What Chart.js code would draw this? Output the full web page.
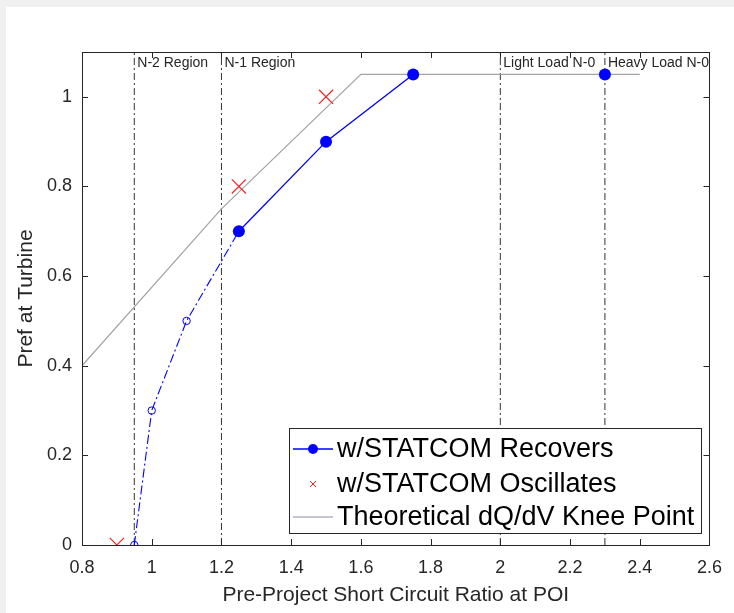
<!DOCTYPE html>
<html>
<head>
<meta charset="utf-8">
<script src="https://cdn.jsdelivr.net/npm/chart.js@4.4.1/dist/chart.umd.min.js"></script>
<style>
  body { margin: 0; background: #f0f0f0; }
  #caja { position: absolute; left: 6px; top: 7px; width: 728px; height: 606px; background: #fff; }
</style>
</head>
<body>
<div id="caja"><canvas id="graficoScr" width="728" height="606"></canvas></div>
<script>
// datos
const recuperaX = [1.25, 1.5, 1.75, 2.0, 2.3];
const recuperaY = [0.7, 0.9, 1.05, null, 1.05];
const bajoX = [0.95, 1.0, 1.1, 1.25];
const bajoY = [0, 0.3, 0.5, 0.7];
const oscilaX = [0.9, 1.25, 1.5];
const oscilaY = [0, 0.8, 1.0];
const rodillaX = [0.8, 1.2, 1.6, 2.4];
const rodillaY = [0.4, 0.75, 1.05, 1.05];
const regionX = [0.95, 1.2, 2.0, 2.3];
const regionTxt = ["N-2 Region", "N-1 Region", "Light Load N-0", "Heavy Load N-0"];
const xTicks = [0.8, 1.0, 1.2, 1.4, 1.6, 1.8, 2.0, 2.2, 2.4, 2.6];
const yTicks = [0, 0.2, 0.4, 0.6, 0.8, 1.0];

const AZUL = "#0000ff";
const ROJO = "#ff2020";
const GRIS = "#a3a3a3";
const EJE = "#262626";
const FUENTE = "'Liberation Sans', Arial, sans-serif";

function puntos(xs, ys) {
  return xs.map((x, i) => ({ x: x, y: ys[i] }));
}

var datasets = [
  {
    label: "w/STATCOM Oscillates",
    data: puntos(oscilaX, oscilaY),
    showLine: false,
    pointStyle: "crossRot",
    pointRadius: 10,
    borderColor: ROJO,
    borderWidth: 1.2
  },
  {
    label: "w/STATCOM Recovers",
    data: puntos(recuperaX, recuperaY),
    borderColor: AZUL,
    backgroundColor: AZUL,
    borderWidth: 1.3,
    pointRadius: 6,
    pointBorderWidth: 0,
    spanGaps: false
  },
  {
    label: "bajo",
    data: puntos(bajoX, bajoY),
    borderColor: AZUL,
    borderWidth: 1.1,
    borderDash: [9, 3, 2, 3],
    pointRadius: [3.7, 3.7, 3.7, 0],
    pointBorderWidth: 1,
    pointBackgroundColor: "rgba(0,0,0,0)",
    pointBorderColor: AZUL
  },
  {
    label: "Theoretical dQ/dV Knee Point",
    data: puntos(rodillaX, rodillaY),
    borderColor: GRIS,
    borderWidth: 1.2,
    pointRadius: 0
  }
];

regionX.forEach(function (x) {
  datasets.push({
    label: "region",
    data: [{ x: x, y: 0 }, { x: x, y: 1.1 }],
    borderColor: "#333333",
    borderWidth: 1,
    borderDash: [7, 3, 2, 3],
    pointRadius: 0
  });
});

// marco, ticks hacia adentro, textos de region y leyenda
const pluginMarco = {
  id: "marco",
  afterDraw: function (chart) {
    const ctx = chart.ctx;
    const a = chart.chartArea;
    const sx = chart.scales.x;
    const sy = chart.scales.y;
    ctx.save();
    ctx.strokeStyle = EJE;
    ctx.lineWidth = 1;
    ctx.beginPath();
    xTicks.forEach(function (v) {
      const px = Math.round(sx.getPixelForValue(v)) + 0.5;
      ctx.moveTo(px, a.bottom); ctx.lineTo(px, a.bottom - 6);
      ctx.moveTo(px, a.top); ctx.lineTo(px, a.top + 6);
    });
    yTicks.forEach(function (v) {
      const py = Math.round(sy.getPixelForValue(v)) + 0.5;
      ctx.moveTo(a.left, py); ctx.lineTo(a.left + 6, py);
      ctx.moveTo(a.right, py); ctx.lineTo(a.right - 6, py);
    });
    ctx.stroke();
    ctx.strokeRect(Math.round(a.left) + 0.5, Math.round(a.top) + 0.5, Math.round(a.right - a.left), Math.round(a.bottom - a.top));

    ctx.fillStyle = EJE;
    ctx.font = "14px " + FUENTE;
    ctx.textBaseline = "middle";
    ctx.textAlign = "left";
    regionX.forEach(function (x, i) {
      ctx.fillText(regionTxt[i], sx.getPixelForValue(x) + 3, a.top + 11);
    });

    // leyenda
    const lx = 283, ly = 421, lw = 412, lh = 105;
    ctx.fillStyle = "#fff";
    ctx.fillRect(lx, ly, lw, lh);
    ctx.strokeStyle = EJE;
    ctx.strokeRect(lx + 0.5, ly + 0.5, lw, lh);
    ctx.font = "27px " + FUENTE;
    const filas = [
      { txt: "w/STATCOM Recovers", y: ly + 21 },
      { txt: "w/STATCOM Oscillates", y: ly + 56 },
      { txt: "Theoretical dQ/dV Knee Point", y: ly + 89 }
    ];
    // muestra 1
    ctx.strokeStyle = AZUL; ctx.lineWidth = 1.3;
    ctx.beginPath(); ctx.moveTo(lx + 4, filas[0].y); ctx.lineTo(lx + 44, filas[0].y); ctx.stroke();
    ctx.fillStyle = AZUL;
    ctx.beginPath(); ctx.arc(lx + 24, filas[0].y, 5, 0, Math.PI * 2); ctx.fill();
    // muestra 2
    ctx.strokeStyle = ROJO; ctx.lineWidth = 1;
    ctx.beginPath();
    ctx.moveTo(lx + 21, filas[1].y - 3); ctx.lineTo(lx + 27, filas[1].y + 3);
    ctx.moveTo(lx + 27, filas[1].y - 3); ctx.lineTo(lx + 21, filas[1].y + 3);
    ctx.stroke();
    // muestra 3
    ctx.strokeStyle = "#8c8ca0"; ctx.lineWidth = 1;
    ctx.beginPath(); ctx.moveTo(lx + 4, filas[2].y); ctx.lineTo(lx + 44, filas[2].y); ctx.stroke();
    ctx.fillStyle = "#000";
    filas.forEach(function (f) { ctx.fillText(f.txt, lx + 48, f.y + 1); });
    ctx.restore();
  }
};

var grafico = new Chart(document.getElementById("graficoScr"), {
  type: "line",
  data: { datasets: datasets },
  options: {
    responsive: false,
    animation: false,
    layout: { padding: { top: 45, right: 23, left: 0, bottom: 0 } },
    plugins: {
      legend: { display: false },
      tooltip: { enabled: false }
    },
    scales: {
      x: {
        type: "linear",
        min: 0.8,
        max: 2.6,
        afterBuildTicks: function (s) { s.ticks = xTicks.map(v => ({ value: v })); },
        afterFit: function (s) { s.height = 68; },
        grid: { display: false, drawTicks: false },
        border: { display: false },
        ticks: {
          padding: 12,
          color: EJE,
          maxRotation: 0,
          autoSkip: false,
          font: { family: FUENTE, size: 18 },
          callback: v => String(Number(v.toFixed(1)))
        },
        title: {
          display: true,
          text: "Pre-Project Short Circuit Ratio at POI",
          color: EJE,
          padding: { top: 4, bottom: 5 },
          font: { family: FUENTE, size: 21 }
        }
      },
      y: {
        type: "linear",
        min: 0,
        max: 1.1,
        afterBuildTicks: function (s) { s.ticks = yTicks.map(v => ({ value: v })); },
        afterFit: function (s) { s.width = 76; },
        grid: { display: false, drawTicks: false },
        border: { display: false },
        ticks: {
          padding: 10,
          color: EJE,
          font: { family: FUENTE, size: 18 },
          callback: v => String(Number(v.toFixed(1)))
        },
        title: {
          display: true,
          text: "Pref at Turbine",
          color: EJE,
          padding: { top: 8, bottom: 0 },
          font: { family: FUENTE, size: 21 }
        }
      }
    }
  },
  plugins: [pluginMarco]
});
</script>
</body>
</html>
